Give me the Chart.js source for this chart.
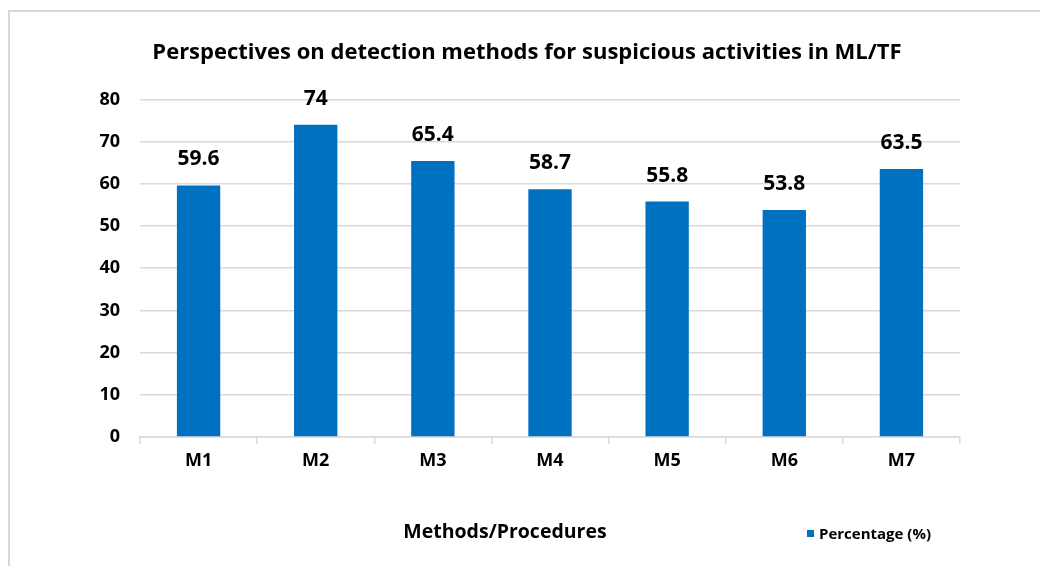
<!DOCTYPE html>
<html>
<head>
<meta charset="utf-8">
<script src="https://cdn.jsdelivr.net/npm/chart.js@4/dist/chart.umd.min.js"></script>
<style>
  html, body { margin: 0; padding: 0; background: #fff; overflow: hidden; }
  #frame { position: absolute; left: 8px; top: 10px; width: 1100px; height: 620px; border: 2px solid #d9d9d9; box-sizing: border-box; }
  #wrap { position: absolute; left: 0; top: 0; width: 1040px; height: 566px; }
</style>
</head>
<body>
<div id="frame"></div>
<div id="wrap"><canvas id="chart" width="1040" height="566"></canvas></div>
<script>
// Perspectives on detection methods - bar chart

const categories = ['M1', 'M2', 'M3', 'M4', 'M5', 'M6', 'M7'];
const percentages = [59.6, 74, 65.4, 58.7, 55.8, 53.8, 63.5];
const seriesName = 'Percentage (%)';
const xTitle = 'Methods/Procedures';
const chartTitle = 'Perspectives on detection methods for suspicious activities in ML/TF';

const FONT = '"Open Sans", Lato, "DejaVu Sans", sans-serif';
const BLUE = '#0070C0';
const GRID = '#d9d9d9';

// value labels above each bar
const valueLabels = {
  id: 'valueLabels',
  afterDatasetsDraw(chart) {
    const ctx = chart.ctx;
    const meta = chart.getDatasetMeta(0);
    ctx.save();
    ctx.font = 'bold 21px ' + FONT;
    ctx.fillStyle = '#000';
    ctx.textAlign = 'center';
    ctx.textBaseline = 'alphabetic';
    meta.data.forEach((bar, i) => {
      ctx.fillText(String(percentages[i]), bar.x, bar.y - 20);
    });
    ctx.restore();
  }
};

// axis title + legend share the bottom line
const bottomLine = {
  id: 'bottomLine',
  afterDraw(chart) {
    const ctx = chart.ctx;
    const area = chart.chartArea;
    const base = area.bottom + 101;
    ctx.save();
    ctx.fillStyle = '#000';
    ctx.textBaseline = 'alphabetic';
    ctx.font = 'bold 19.5px ' + FONT;
    ctx.textAlign = 'center';
    ctx.fillText(xTitle, area.left + 365, base);
    // legend
    const lx = area.right - 153;
    ctx.fillStyle = BLUE;
    ctx.fillRect(lx, base - 8, 7, 7);
    ctx.fillStyle = '#000';
    ctx.font = 'bold 15px ' + FONT;
    ctx.textAlign = 'left';
    ctx.fillText(seriesName, lx + 12, base + 1);
    ctx.restore();
  }
};

new Chart(document.getElementById('chart'), {
  type: 'bar',
  data: {
    labels: categories,
    datasets: [{
      label: seriesName,
      data: percentages,
      backgroundColor: BLUE,
      borderWidth: 0,
      categoryPercentage: 1,
      barPercentage: 0.37
    }]
  },
  options: {
    responsive: false,
    animation: false,
    layout: { padding: { left: 94, right: 80, top: 0, bottom: 0 } },
    plugins: {
      legend: { display: false },
      tooltip: { enabled: false },
      title: {
        display: true,
        text: chartTitle,
        color: '#000',
        font: { family: FONT, size: 22, weight: 'bold' },
        padding: { top: 40, bottom: 33 }
      }
    },
    scales: {
      x: {
        grid: {
          display: true,
          drawOnChartArea: false,
          drawTicks: true,
          tickLength: 7,
          color: GRID,
          lineWidth: 1.5
        },
        border: { display: true, color: GRID, width: 1.5 },
        ticks: {
          color: '#000',
          font: { family: FONT, size: 18, weight: 'bold' },
          padding: 6
        },
        afterFit(scale) { scale.height = 129; }
      },
      y: {
        min: 0,
        max: 80,
        ticks: {
          stepSize: 10,
          color: '#000',
          font: { family: FONT, size: 18, weight: 'bold' },
          padding: 20
        },
        grid: { color: GRID, lineWidth: 1.5, drawTicks: false },
        border: { display: false },
        afterFit(scale) { scale.width = 46; }
      }
    }
  },
  plugins: [valueLabels, bottomLine]
});
</script>
</body>
</html>
